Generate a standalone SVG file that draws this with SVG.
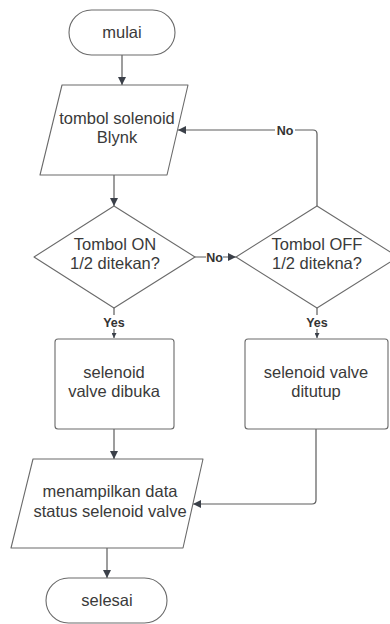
<svg xmlns="http://www.w3.org/2000/svg" width="390" height="624" viewBox="0 0 390 624">
  <style>
    .shape { fill: #ffffff; stroke: #6a6a6a; stroke-width: 1.1; stroke-linejoin: round; }
    .txt { font-family: "Liberation Sans", Arial, sans-serif; font-size: 16.5px; fill: #3a3a3a; text-anchor: middle; }
    .lbl { font-family: "Liberation Sans", Arial, sans-serif; font-size: 12.5px; font-weight: bold; fill: #333333; text-anchor: middle; }
    .edge { fill: none; stroke: #5c5c5c; stroke-width: 1.2; stroke-linejoin: round; }
  </style>
  <defs>
    <marker id="arrow" viewBox="0 0 10 10" refX="10" refY="5" markerWidth="8" markerHeight="8" markerUnits="userSpaceOnUse" orient="auto">
      <path d="M0,0 L10,5 L0,10 Z" fill="#3b4049"/>
    </marker>
    <marker id="arrowSmall" viewBox="0 0 10 10" refX="10" refY="5" markerWidth="5" markerHeight="5" markerUnits="userSpaceOnUse" orient="auto">
      <path d="M0,0 L10,5 L0,10 Z" fill="#3b4049"/>
    </marker>
  </defs>
  <rect width="390" height="624" fill="#ffffff"/>

  <!-- connectors -->
  <g id="connectors">
    <path class="edge" d="M122,55 V85" marker-end="url(#arrow)"/>
    <path class="edge" d="M114,175 V206" marker-end="url(#arrow)"/>
    <path class="edge" d="M195,257 H236" marker-end="url(#arrow)"/>
    <path class="edge" d="M317,206 V134 Q317,130 313,130 H178" marker-end="url(#arrow)"/>
    <path class="edge" d="M114,308 V338" marker-end="url(#arrowSmall)"/>
    <path class="edge" d="M317,308 V338" marker-end="url(#arrowSmall)"/>
    <path class="edge" d="M114,429 V459" marker-end="url(#arrow)"/>
    <path class="edge" d="M316,429 V500 Q316,504 312,504 H193" marker-end="url(#arrow)"/>
    <path class="edge" d="M107,548 V578" marker-end="url(#arrow)"/>
    <!-- edge labels -->
    <rect x="275" y="123" width="20" height="14" fill="#ffffff"/>
    <text class="lbl" x="285" y="134.5">No</text>
    <rect x="206" y="250" width="17" height="14" fill="#ffffff"/>
    <text class="lbl" x="214.5" y="261.5">No</text>
    <rect x="102" y="315" width="24" height="14" fill="#ffffff"/>
    <text class="lbl" x="114" y="326.5">Yes</text>
    <rect x="305" y="315" width="24" height="14" fill="#ffffff"/>
    <text class="lbl" x="317" y="326.5">Yes</text>
  </g>

  <g id="mulai">
    <rect class="shape" x="69" y="10" width="106" height="45" rx="22.5"/>
    <text class="txt" x="122" y="38">mulai</text>
  </g>

  <g id="tombol-blynk">
    <path class="shape" d="M62,85 H188 L167,175 H40 Z"/>
    <text class="txt" x="117" y="124">tombol solenoid</text>
    <text class="txt" x="117" y="143">Blynk</text>
  </g>

  <g id="cek-on">
    <path class="shape" d="M114,206 L195,257 L114,308 L34,257 Z"/>
    <text class="txt" x="115" y="250">Tombol ON</text>
    <text class="txt" x="115" y="269">1/2 ditekan?</text>
  </g>

  <g id="cek-off">
    <path class="shape" d="M317,206 L398,257 L317,308 L236,257 Z"/>
    <text class="txt" x="317" y="250">Tombol OFF</text>
    <text class="txt" x="317" y="269">1/2 ditekna?</text>
  </g>

  <g id="valve-dibuka">
    <rect class="shape" x="55" y="339" width="119" height="90" rx="3"/>
    <text class="txt" x="114" y="378">selenoid</text>
    <text class="txt" x="114" y="397">valve dibuka</text>
  </g>

  <g id="valve-ditutup">
    <rect class="shape" x="245" y="339" width="143" height="90" rx="3"/>
    <text class="txt" x="316" y="378">selenoid valve</text>
    <text class="txt" x="316" y="397">ditutup</text>
  </g>

  <g id="tampil-status">
    <path class="shape" d="M33,459 H203 L183,548 H11 Z"/>
    <text class="txt" x="110" y="497">menampilkan data</text>
    <text class="txt" x="110" y="517">status selenoid valve</text>
  </g>

  <g id="selesai">
    <rect class="shape" x="46" y="578" width="121" height="45" rx="22.5"/>
    <text class="txt" x="107" y="606">selesai</text>
  </g>
</svg>
